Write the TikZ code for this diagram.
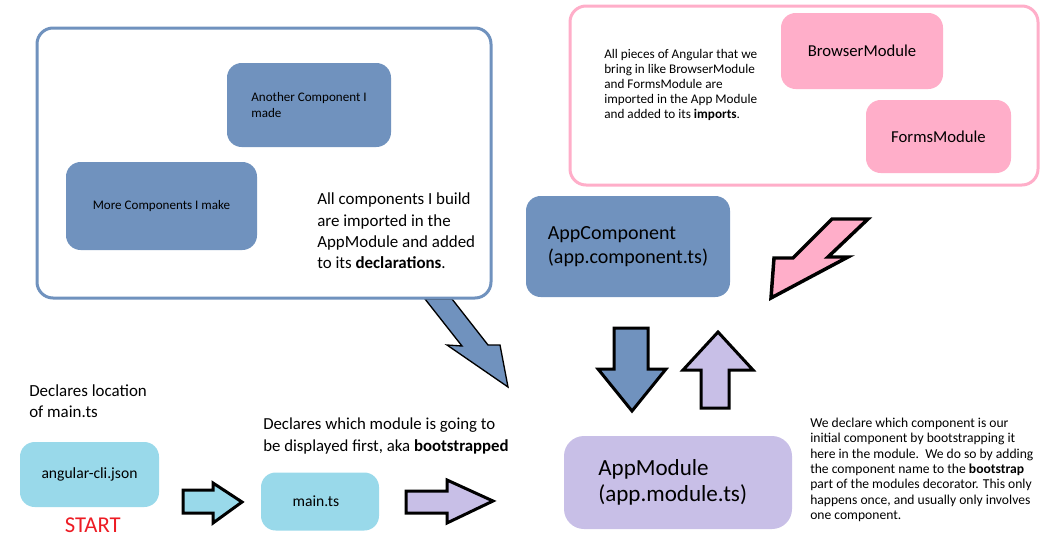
\documentclass[tikz,border=0pt]{standalone}
\usepackage{fontspec}
\setmainfont{Carlito}
\usetikzlibrary{positioning}

\definecolor{compblue}{RGB}{112,146,190}
\definecolor{modpink}{RGB}{255,174,201}
\definecolor{cliblue}{RGB}{153,217,234}
\definecolor{modpurple}{RGB}{200,191,231}
\definecolor{startred}{RGB}{237,28,36}

\begin{document}
\begin{tikzpicture}[x=0.75pt, y=-0.75pt,
	box/.style={rounded corners=11pt, inner sep=0pt, align=left},
	frame/.style={rounded corners=12pt, line width=2.25pt, fill=white, inner sep=0pt},
	small/.style={font=\fontsize{9.8}{11.4}\selectfont},
	note/.style={font=\fontsize{12.7}{16}\selectfont, align=left, inner sep=0pt, anchor=west},
	block/.style={draw=black, line width=2.25pt, line join=miter}]
		\useasboundingbox (0,0) rectangle (1049,543);
		
		% Arrow from the component frame
		\draw[fill=compblue, draw=black, line width=1pt] (425,299) -- (452,299) -- (488,345) -- (500,345) -- (508,387) -- (447,345) -- (462,346) -- cycle;
		
		% Define frames
		\node[frame, draw=compblue, minimum width=340.5pt, minimum height=202.5pt] (compframe) at (264,163) {};
		\node[frame, draw=modpink, minimum width=351pt, minimum height=134.25pt] (modframe) at (804,95.5) {};
		
		% Define nodes
		\node[box, small, fill=compblue, minimum width=123pt, minimum height=63pt] (another) at (309,105) {Another Component I\\made};
		\node[box, small, fill=compblue, minimum width=143.25pt, minimum height=66pt] (more) at (161.5,206) {More Components I make};
		\node[box, fill=modpink, minimum width=121.5pt, minimum height=57pt, font=\fontsize{12.5}{15}\selectfont] (browser) at (862,51) {BrowserModule};
		\node[box, fill=modpink, minimum width=108.75pt, minimum height=54.75pt, font=\fontsize{12.5}{15}\selectfont] (forms) at (938.5,136.5) {FormsModule};
		\node[box, fill=compblue, minimum width=153pt, minimum height=75.75pt, font=\fontsize{15}{18}\selectfont] (appcomp) at (628,246.5) {AppComponent\\(app.component.ts)};
		\node[box, fill=modpurple, minimum width=171pt, minimum height=69.75pt, rounded corners=15pt, font=\fontsize{17.3}{19.5}\selectfont] (appmod) at (678,482.5) {AppModule\\(app.module.ts)\hspace*{8pt}};
		\node[box, fill=cliblue, minimum width=104.25pt, minimum height=48.75pt, font=\fontsize{11.7}{13}\selectfont] (cli) at (89.5,474.5) {angular-cli.json};
		\node[box, fill=cliblue, minimum width=88.5pt, minimum height=43.5pt, font=\fontsize{11.7}{13}\selectfont] (main) at (320,501.5) {main.ts\hspace*{6pt}};
		\node[below=8pt of cli, xshift=2.5pt, inner sep=0pt, text=startred, font=\fontsize{17}{18}\selectfont] (start) {START};
		
		% Notes
		\node[note] (declnote) at (317,231) {All components I build\\are imported in the\\AppModule and added\\to its \textbf{declarations}.};
		\node[note, font=\fontsize{9.9}{11.3}\selectfont] (impnote) at (604,85) {All pieces of Angular that we\\bring in like BrowserModule\\and FormsModule are\\imported in the App Module\\and added to its \textbf{imports}.};
		\node[note] (locnote) at (29,401) {Declares location\\of main.ts};
		\node[note, font=\fontsize{12.6}{16.5}\selectfont] (bootnote) at (263,436) {Declares which module is going to\\be displayed first, aka \textbf{bootstrapped}};
		\node[note, font=\fontsize{10.2}{11.5}\selectfont] (modnote) at (810,470) {We declare which component is our\\initial component by bootstrapping it\\here in the module.\ \ We do so by adding\\the component name to the \textbf{bootstrap}\\part of the modules decorator. This only\\happens once, and usually only involves\\one component.};
		
		% Draw arrows
		\draw[block, fill=cliblue] (183,490) -- (213,490) -- (213,483) -- (242,502) -- (213,523) -- (213,513) -- (183,513) -- cycle;
		\draw[block, fill=modpurple] (406,491) -- (447,491) -- (447,480) -- (493,501) -- (447,523) -- (447,513) -- (406,513) -- cycle;
		\draw[block, fill=compblue] (614,328) -- (648,328) -- (648,369) -- (666,369) -- (632,411) -- (598,369) -- (614,369) -- cycle;
		\draw[block, fill=modpurple] (701,408) -- (729,408) -- (729,370) -- (753,370) -- (718,332) -- (683,370) -- (701,370) -- cycle;
		\draw[block, fill=modpink, line width=2.6pt] (832,219) -- (868,219) -- (828,257) -- (848,257) -- (771,298) -- (774,258) -- (793,258) -- cycle;
	\end{tikzpicture}
\end{document}
